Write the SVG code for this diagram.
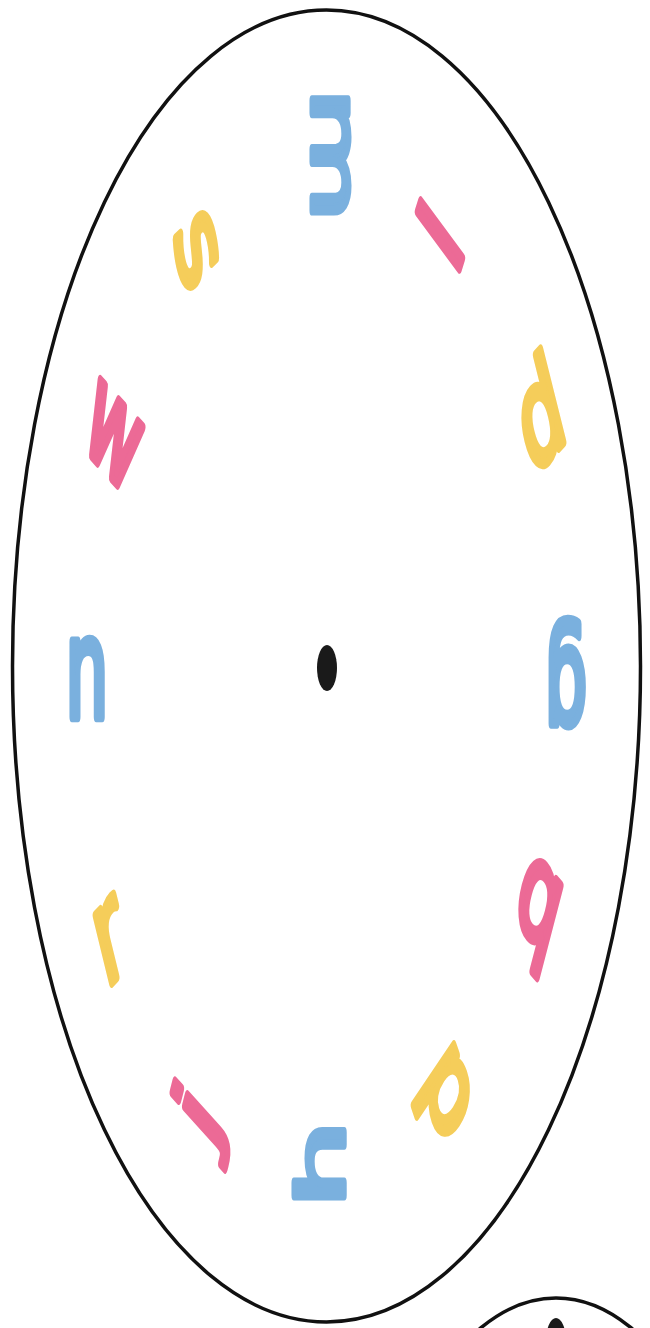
<svg xmlns="http://www.w3.org/2000/svg" width="650" height="1328" viewBox="0 0 650 1328">
  <style>
    .rim { fill: none; stroke: #111; stroke-width: 3.5; }
    .hub { fill: #1a1a1a; }
    .lt { font-family: "DejaVu Sans", "Liberation Sans", sans-serif; font-size: 66px; text-anchor: middle; stroke-width: 5; stroke-linejoin: round; stroke-linecap: round; }
    .blue { fill: #7AB0DE; stroke: #7AB0DE; }
    .pink { fill: #EC6A96; stroke: #EC6A96; }
    .yellow { fill: #F5CD5A; stroke: #F5CD5A; }
  </style>
  <rect x="0" y="0" width="650" height="1328" fill="#ffffff"/>
  <g id="wheel">
    <ellipse class="rim" cx="326.5" cy="666" rx="314" ry="656"/>
    <ellipse class="hub" cx="327" cy="668" rx="10" ry="23"/>
  </g>
  <g id="second-wheel">
    <ellipse class="rim" cx="556" cy="1706" rx="200" ry="408"/>
    <ellipse class="hub" cx="556" cy="1341" rx="10" ry="23"/>
  </g>
  <g id="letters" transform="translate(326.5,667) scale(1,2.086)">
    <g id="letter-m" transform="translate(3.5,-245.4) rotate(90)"><text class="lt blue" y="18">m</text></g>
    <g id="letter-l" transform="translate(113.5,-207.1) rotate(-57)"><text class="lt pink" y="25">l</text></g>
    <g id="letter-d" transform="translate(212.5,-123.1) rotate(-27.5)"><text class="lt yellow" y="25">d</text></g>
    <g id="letter-g" transform="translate(239.5,2.4) rotate(180)"><text class="lt blue" y="11">g</text></g>
    <g id="letter-q" transform="translate(209.5,119.8) rotate(28.5)"><text class="lt pink" y="11">q</text></g>
    <g id="letter-p" transform="translate(115.5,208) rotate(54.5)"><text class="lt yellow" y="11">p</text></g>
    <g id="letter-h" transform="translate(-7.5,238.3) rotate(-90)"><text class="lt blue" y="25">h</text></g>
    <g id="letter-j" transform="translate(-126.5,220) rotate(-62)"><text class="lt pink" x="4" y="18">j</text></g>
    <g id="letter-r" transform="translate(-214.5,131) rotate(-27)"><text class="lt yellow" x="-2" y="18">r</text></g>
    <g id="letter-n" transform="translate(-239.5,6.2)"><text class="lt blue" y="18">n</text></g>
    <g id="letter-w" transform="translate(-213.5,-110.2) rotate(28)"><text class="lt pink" y="18">w</text></g>
    <g id="letter-s" transform="translate(-130.5,-199.9) rotate(65)"><text class="lt yellow" y="18">s</text></g>
  </g>
</svg>
